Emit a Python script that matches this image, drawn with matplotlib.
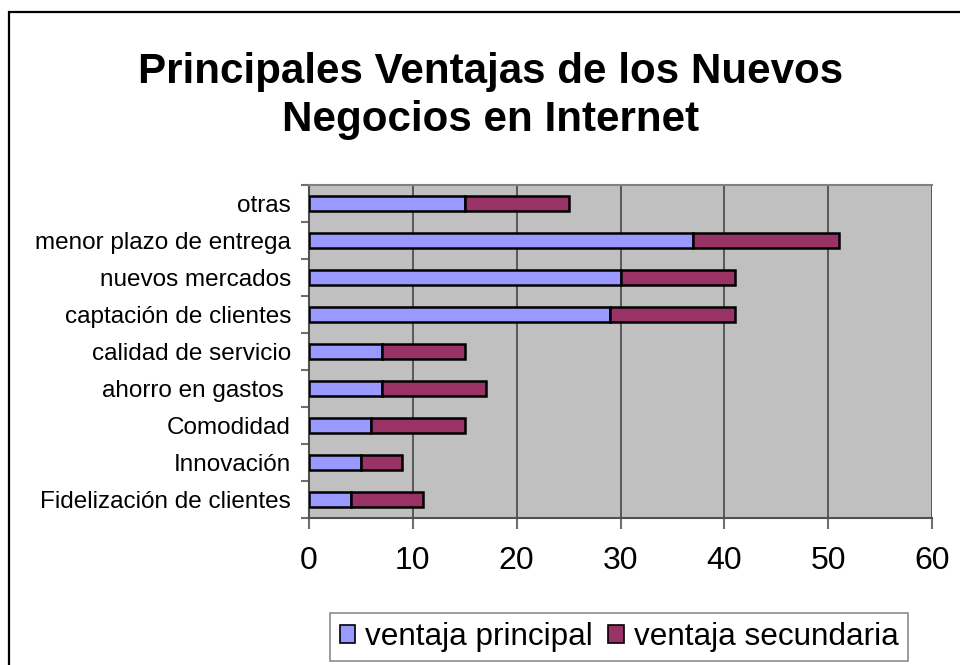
import matplotlib
matplotlib.use("Agg")
import matplotlib.pyplot as plt
from matplotlib.patches import Rectangle
import numpy as np

categories = ["Fidelización de clientes", "Innovación", "Comodidad", "ahorro en gastos ",
              "calidad de servicio", "captación de clientes", "nuevos mercados",
              "menor plazo de entrega", "otras"]
principal = [4, 5, 6, 7, 7, 29, 30, 37, 15]
secundaria = [7, 4, 9, 10, 8, 12, 11, 14, 10]
xticks = [0, 10, 20, 30, 40, 50, 60]
title = "Principales Ventajas de los Nuevos\nNegocios en Internet"
series_names = ["ventaja principal", "ventaja secundaria"]

plt.rcParams['font.family'] = ['Liberation Sans', 'DejaVu Sans']

fig = plt.figure(figsize=(9.6, 6.65), dpi=100)
fig.patch.set_facecolor('white')

# outer frame
fig.add_artist(Rectangle((9/960, -0.1), 1.2, 1 - 12/665 + 0.1, transform=fig.transFigure,
                         fill=False, edgecolor='black', linewidth=1.6))

ax = fig.add_axes([309/960, 1 - 518/665, (932 - 309)/960, (518 - 185)/665])
ax.set_facecolor('#C0C0C0')

y = np.arange(len(categories))
ax.barh(y, principal, height=0.4, color='#9999FF', edgecolor='black', linewidth=1.8, zorder=3)
ax.barh(y, secundaria, left=principal, height=0.4, color='#993366', edgecolor='black',
        linewidth=1.8, zorder=3)

ax.set_xlim(0, 60)
ax.set_ylim(-0.5, len(categories) - 0.5)
ax.set_xticks(xticks)
ax.set_xticklabels([str(v) for v in xticks], fontsize=23)
ax.set_yticks(y)
ax.set_yticklabels(categories, fontsize=17.5)
ax.tick_params(axis='y', which='major', length=0, pad=13)
ax.set_yticks(np.arange(-0.5, len(categories), 1), minor=True)
ax.tick_params(axis='y', which='minor', length=6, color='#707070', width=1.5)
ax.tick_params(axis='x', which='major', length=8, color='#707070', width=1.5, pad=12)

ax.xaxis.grid(True, color='#505050', linewidth=1.3, zorder=1)
ax.set_axisbelow(True)
for side in ['left', 'bottom']:
    ax.spines[side].set_color('#505050')
    ax.spines[side].set_linewidth(1.5)
ax.spines['top'].set_color('#808080')
ax.spines['top'].set_linewidth(1.5)
ax.spines['right'].set_visible(False)

fig.text(491/960, 1 - 96/665, title, ha='center', va='center', fontsize=30.3,
         fontweight='bold', linespacing=1.25)

handles = [Rectangle((0, 0), 1, 1, facecolor='#9999FF', edgecolor='black', linewidth=1.2),
           Rectangle((0, 0), 1, 1, facecolor='#993366', edgecolor='black', linewidth=1.2)]
leg = fig.legend(handles, series_names, loc='center', bbox_to_anchor=(619/960, 1 - 637/665),
                 ncol=2, fontsize=22.7, frameon=True, fancybox=False, handlelength=0.5,
                 handleheight=0.5, handletextpad=0.3, columnspacing=0.5, borderpad=0.3)
leg.get_frame().set_edgecolor('#707070')
leg.get_frame().set_linewidth(1.2)

fig.savefig('out.png', dpi=100)
